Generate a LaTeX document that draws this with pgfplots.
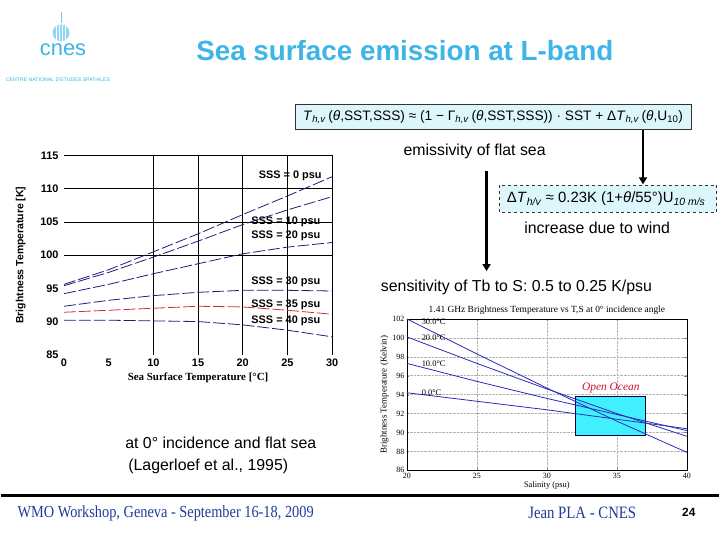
\documentclass[border=0pt]{standalone}
\usepackage{pgfplots}
\pgfplotsset{compat=1.18}
\usepackage{amsmath}
\usepackage{fontspec}
\setmainfont{Liberation Sans}
\newfontfamily\serif{Liberation Serif}
\usetikzlibrary{arrows.meta}
\definecolor{titleblue}{HTML}{3DB5E6}
\definecolor{navy}{HTML}{1C1C7A}
\definecolor{sssred}{HTML}{C83030}
\definecolor{footblue}{HTML}{1F3C98}
\definecolor{boxcyan}{HTML}{DDF6FC}
\definecolor{lineblue}{HTML}{2A2AB8}
\definecolor{ocean}{HTML}{40F0FF}
\definecolor{oceanred}{HTML}{CC1030}
\newcommand{\sub}[1]{\textsubscript{#1}}
\begin{document}
\begin{tikzpicture}[x=1bp,y=1bp]
\path[fill=white] (0,0) rectangle (720,540);
% logo
\draw[titleblue!70,line width=0.6] (60,517) -- (60,528);
\fill[titleblue!55] (60,507) circle (8.5);
\foreach \xx in {55,58,61,64} {\draw[white,line width=0.7] (\xx,499) -- (\xx,515);}
\node[text=titleblue,font=\fontsize{22}{22}\selectfont] at (62,490) {cnes};
\node[text=titleblue,font=\fontsize{5.2}{6}\selectfont,inner sep=0] at (57,460) {CENTRE NATIONAL D'ETUDES SPATIALES};
% title
\node[text=titleblue,font=\bfseries\fontsize{28}{32}\selectfont] at (405,489) {Sea surface emission at L-band};
% formula 1
\draw[fill=boxcyan,draw=black!80,line width=0.6] (295,410) rectangle (692,435);
\node[font=\fontsize{13.8}{15}\selectfont] at (493.5,422.5) {\textit{T}\sub{\textit{h,v}}\,(\textit{θ},SST,SSS) ≈ (1 − Γ\sub{\textit{h,v}}\,(\textit{θ},SST,SSS)) · SST + Δ\textit{T}\sub{\textit{h,v}}\,(\textit{θ},U\sub{10})};
\node[font=\fontsize{16}{18}\selectfont] at (475,388) {emissivity of flat sea};
\draw[line width=2.6,-{Triangle[length=7,width=8]}] (644,410) -- (644,355);
% formula 2
\draw[fill=boxcyan,draw=black!80,dashed,line width=0.6] (500,327) rectangle (718,354);
\node[font=\fontsize{15}{16}\selectfont] at (607,340.5) {Δ\textit{T}\sub{\textit{h/v}} ≈ 0.23K (1+\textit{θ}/55°)U\sub{\textit{10 m/s}}};
\draw[line width=2.6,-{Triangle[length=7,width=8]}] (487,368) -- (487,268);
\node[font=\fontsize{16}{18}\selectfont] at (598,311) {increase due to wind};
\node[font=\fontsize{16}{18}\selectfont] at (517,252) {sensitivity of Tb to S: 0.5 to 0.25 K/psu};
\node[font=\fontsize{16}{18}\selectfont,anchor=west] at (121,96) {at 0° incidence and flat sea};
\node[font=\fontsize{16}{18}\selectfont,anchor=west] at (124,72) {(Lagerloef et al., 1995)};
% footer
\draw[line width=2.5] (0,43) -- (720,43);
\node[text=footblue,font=\serif\fontsize{17}{19}\selectfont] at (165,25) {\scalebox{0.85}[1]{WMO Workshop, Geneva - September 16-18, 2009}};
\node[text=footblue,font=\serif\fontsize{17.5}{19}\selectfont] at (583,25) {\scalebox{0.85}[1]{Jean PLA - CNES}};
\node[font=\bfseries\fontsize{12}{14}\selectfont] at (690,26) {24};

% left chart
\begin{axis}[
  at={(63bp,184bp)}, anchor=south west,
  scale only axis, width=269bp, height=200bp,
  xmin=0, xmax=30, ymin=85, ymax=115,
  xtick={0,5,...,30}, ytick={85,90,...,115},
  axis line style={draw=none},
  major tick length=0pt,
  extra x ticks={10,15,20,25,30}, extra x tick labels={},
  extra y ticks={100,105,110,115}, extra y tick labels={},
  extra tick style={grid=major, major grid style={black, line width=0.7}},
  tick label style={font=\bfseries\fontsize{11}{12}\selectfont},
  /pgf/number format/assume math mode=true,
  xticklabel style={yshift=-1bp},
  yticklabel style={xshift=-2bp},
  xlabel={\serif\bfseries Sea Surface Temperature [°C]},
  ylabel={Brightness Temperature [K]},
  xlabel style={font=\fontsize{11}{12}\selectfont, yshift=1bp},
  ylabel style={font=\bfseries\fontsize{10.5}{12}\selectfont, yshift=8bp},
  every axis plot/.append style={line width=0.8, dash pattern=on 12pt off 3pt},
  clip=false,
]
\addplot[navy] coordinates {(0,95.6)(5,97.8)(10,100.5)(15,103.2)(20,106.1)(25,108.9)(30,111.8)};
\addplot[navy] coordinates {(0,95.4)(5,97.4)(10,99.7)(15,102.1)(20,104.6)(25,106.8)(30,108.8)};
\addplot[navy] coordinates {(0,94.2)(5,95.6)(10,97.2)(15,98.7)(20,100.2)(25,101.2)(30,101.9)};
\addplot[navy] coordinates {(0,92.3)(5,93.2)(10,93.9)(15,94.4)(20,94.7)(25,94.7)(30,94.6)};
\addplot[sssred] coordinates {(0,91.4)(5,91.7)(10,92.0)(15,92.3)(20,92.2)(25,91.7)(30,91.1)};
\addplot[navy] coordinates {(0,90.2)(5,90.2)(10,90.1)(15,90.0)(20,89.5)(25,88.7)(30,87.7)};
\begin{scope}[every node/.style={anchor=east,font=\bfseries\fontsize{11}{12}\selectfont,inner sep=0}]
\node at (axis cs:28.85,111.9) {SSS = 0 psu};
\node at (axis cs:28.7,105.0) {SSS = 10 psu};
\node at (axis cs:28.7,102.9) {SSS = 20 psu};
\node at (axis cs:28.7,96.0) {SSS = 30 psu};
\node at (axis cs:28.7,92.55) {SSS = 35 psu};
\node at (axis cs:28.7,90.15) {SSS = 40 psu};
\end{scope}
\end{axis}

% right chart
\begin{axis}[
  at={(407bp,68bp)}, anchor=south west,
  scale only axis, width=281bp, height=152bp,
  xmin=20, xmax=40, ymin=86, ymax=102,
  xtick={20,25,...,40}, ytick={86,88,...,102},
  grid=major, major grid style={gray!60, densely dotted, line width=0.5},
  tick align=inside, major tick length=2.5bp,
  axis line style={black, line width=0.6},
  tick label style={font=\serif\fontsize{8}{9}\selectfont},
  /pgf/number format/assume math mode=true,
  xticklabel style={yshift=1bp},
  yticklabel style={xshift=1bp},
  title={1.41 GHz Brightness Temperature vs T,S at 0° incidence angle},
  title style={font=\serif\fontsize{9.5}{11}\selectfont, yshift=-5bp},
  xlabel={Salinity (psu)},
  ylabel={Brightness Temperature (Kelvin)},
  xlabel style={font=\serif\fontsize{8.5}{10}\selectfont, yshift=3bp},
  ylabel style={font=\serif\fontsize{9}{10}\selectfont, yshift=-3bp},
  clip=false,
]
\addplot[fill=ocean, draw=black!70!blue, line width=0.7] coordinates {(32,89.75)(37,89.75)(37,93.8)(32,93.8)} -- cycle;
\addplot[lineblue, line width=0.8] coordinates {(20,102.0)(25,98.3)(30,94.7)(35,91.2)(40,87.9)};
\addplot[lineblue, line width=0.8] coordinates {(20,100.1)(25,97.3)(30,94.6)(35,92.0)(40,89.6)};
\addplot[lineblue, line width=0.8] coordinates {(20,97.3)(25,95.4)(30,93.6)(35,91.9)(40,90.2)};
\addplot[lineblue, line width=0.8] coordinates {(20,94.2)(25,93.3)(30,92.4)(35,91.4)(40,90.4)};
\begin{scope}[every node/.style={anchor=west,font=\serif\fontsize{8.5}{10}\selectfont,inner sep=0}]
\node at (axis cs:21.05,101.65) {30.0°C};
\node at (axis cs:21.05,99.97) {20.0°C};
\node at (axis cs:21.05,97.26) {10.0°C};
\node at (axis cs:21.05,94.18) {0.0°C};
\end{scope}
\node[text=oceanred,font=\serif\itshape\fontsize{11.5}{13}\selectfont] at (axis cs:34.57,94.7) {Open Ocean};
\end{axis}
\end{tikzpicture}
\end{document}
